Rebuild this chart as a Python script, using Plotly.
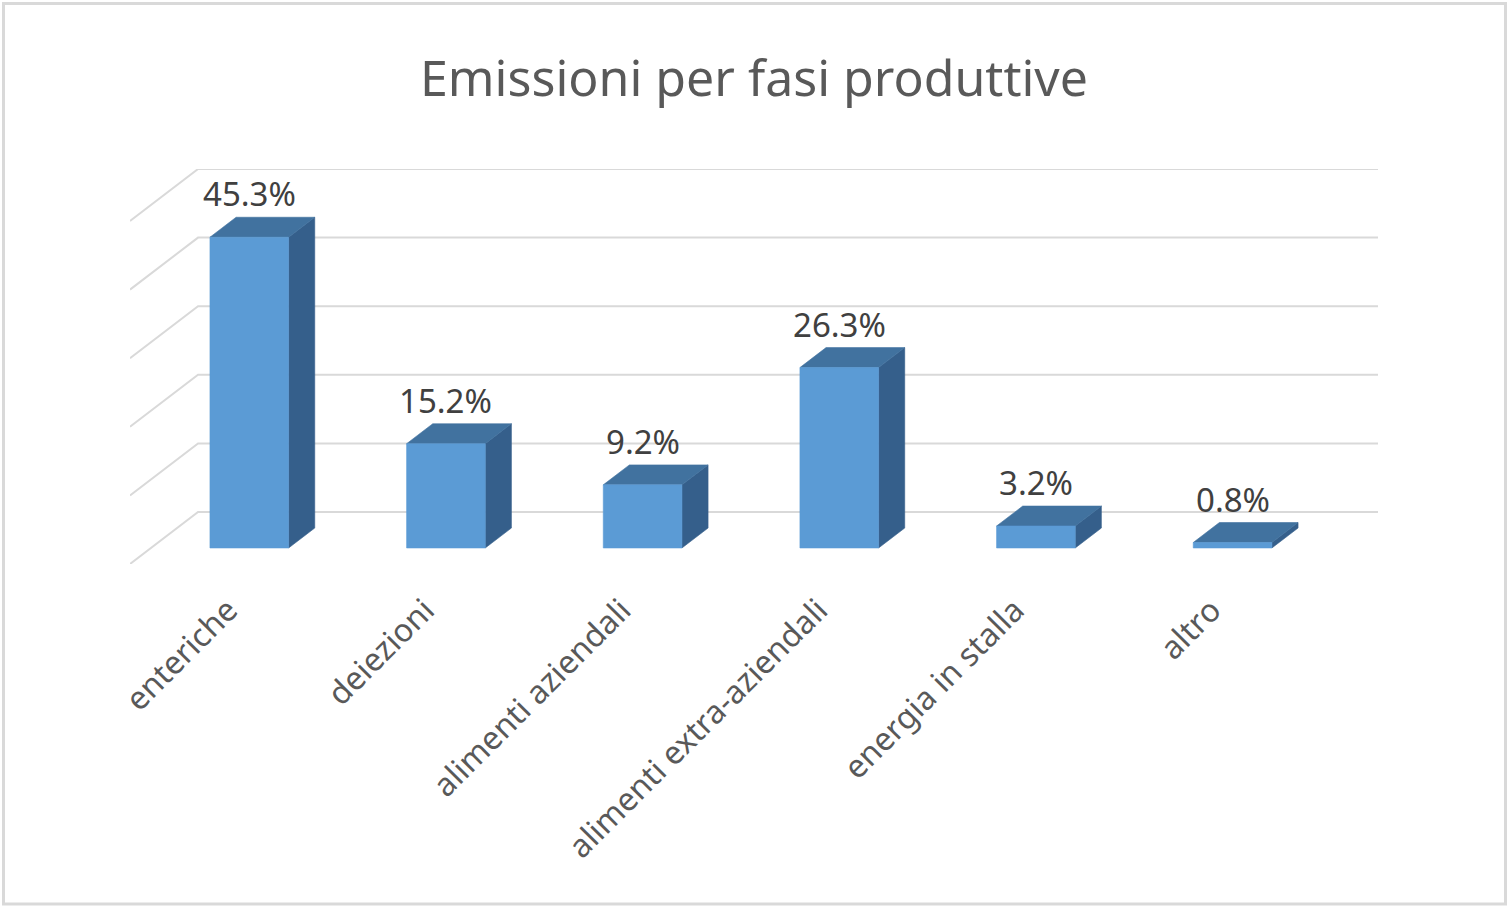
import plotly.graph_objects as go

# ---------------- data ----------------
categories = ["enteriche", "deiezioni", "alimenti aziendali",
              "alimenti extra-aziendali", "energia in stalla", "altro"]
values = [45.3, 15.2, 9.2, 26.3, 3.2, 0.8]          # percent
grid_ticks = [0, 10, 20, 30, 40, 50]               # value-axis gridlines
title_text = "Emissioni per fasi produttive"

# ---------------- style / 3D projection ----------------
DEPTH_X = 0.346     # x shift (category units) across full depth
DEPTH_Y = 7.58      # y shift (value units) across full depth
D_FRONT = 0.308     # bar front face depth
D_BACK = 0.692      # bar back face depth
HALF_W = 0.2        # half bar width (category units)
C_FRONT = "#5B9BD5"
C_TOP = "#41729F"
C_SIDE = "#355F8B"
C_GRID = "#D9D9D9"
FONT = "Noto Sans"

W, H = 1508, 907
ML, MR, MT, MB = 130, 130, 169, 343

n = len(categories)
x_lo, x_hi = -0.5, n - 0.5 + DEPTH_X
y_lo, y_hi = 0, grid_ticks[-1] + DEPTH_Y


def proj(x, v, d):
    return x + d * DEPTH_X, v + d * DEPTH_Y


fig = go.Figure()

# gridlines: side wall diagonal + back wall horizontal
gx, gy = [], []
for t in grid_ticks:
    for (x, d) in [(x_lo, 0), (x_lo, 1), (n - 0.5, 1)]:
        px, py = proj(x, t, d)
        gx.append(px)
        gy.append(py)
    gx.append(None)
    gy.append(None)
fig.add_trace(go.Scatter(x=gx, y=gy, mode="lines",
                         line=dict(color=C_GRID, width=2),
                         hoverinfo="skip", showlegend=False))


def face(pts, color):
    xs, ys = [], []
    for (x, v, d) in pts:
        px, py = proj(x, v, d)
        xs.append(px)
        ys.append(py)
    xs.append(xs[0])
    ys.append(ys[0])
    fig.add_trace(go.Scatter(x=xs, y=ys, mode="lines", fill="toself",
                             fillcolor=color, line=dict(color=color, width=0.6),
                             hoverinfo="skip", showlegend=False))


for i, v in enumerate(values):
    l, r = i - HALF_W, i + HALF_W
    face([(r, 0, D_FRONT), (r, 0, D_BACK), (r, v, D_BACK), (r, v, D_FRONT)], C_SIDE)
    face([(l, v, D_FRONT), (r, v, D_FRONT), (r, v, D_BACK), (l, v, D_BACK)], C_TOP)
    face([(l, 0, D_FRONT), (r, 0, D_FRONT), (r, v, D_FRONT), (l, v, D_FRONT)], C_FRONT)

# data labels
for i, v in enumerate(values):
    px, _ = proj(i, v, D_FRONT)
    _, py = proj(i, v, D_BACK)
    fig.add_annotation(x=px, y=py, text=f"{v:.1f}%", showarrow=False,
                       xanchor="center", yanchor="bottom", yshift=-1,
                       font=dict(family=FONT, size=33, color="#404040"))

# chart border
fig.add_shape(type="rect", xref="paper", yref="paper",
              x0=(3.5 - ML) / (W - ML - MR), x1=(1505.5 - ML) / (W - ML - MR),
              y0=(H - 904 - MB) / (H - MT - MB), y1=(H - 3.5 - MB) / (H - MT - MB),
              line=dict(color=C_GRID, width=3), fillcolor="rgba(0,0,0,0)", layer="below")

fig.update_layout(
    width=W, height=H,
    margin=dict(l=ML, r=MR, t=MT, b=MB, pad=0),
    paper_bgcolor="white", plot_bgcolor="white",
    showlegend=False,
    title=dict(text=title_text, x=0.5, xanchor="center", xref="paper",
               y=1 - 78 / H, yanchor="middle", yref="container",
               font=dict(family=FONT, size=50, color="#595959")),
    xaxis=dict(range=[x_lo, x_hi], showgrid=False, zeroline=False, showline=False,
               tickmode="array", tickvals=list(range(n)), ticktext=categories,
               tickangle=-45, ticks="", fixedrange=True, ticklabelstandoff=20,
               tickfont=dict(family=FONT, size=32, color="#595959")),
    yaxis=dict(range=[y_lo, y_hi], visible=False, fixedrange=True),
)

fig.write_html("out.html")
